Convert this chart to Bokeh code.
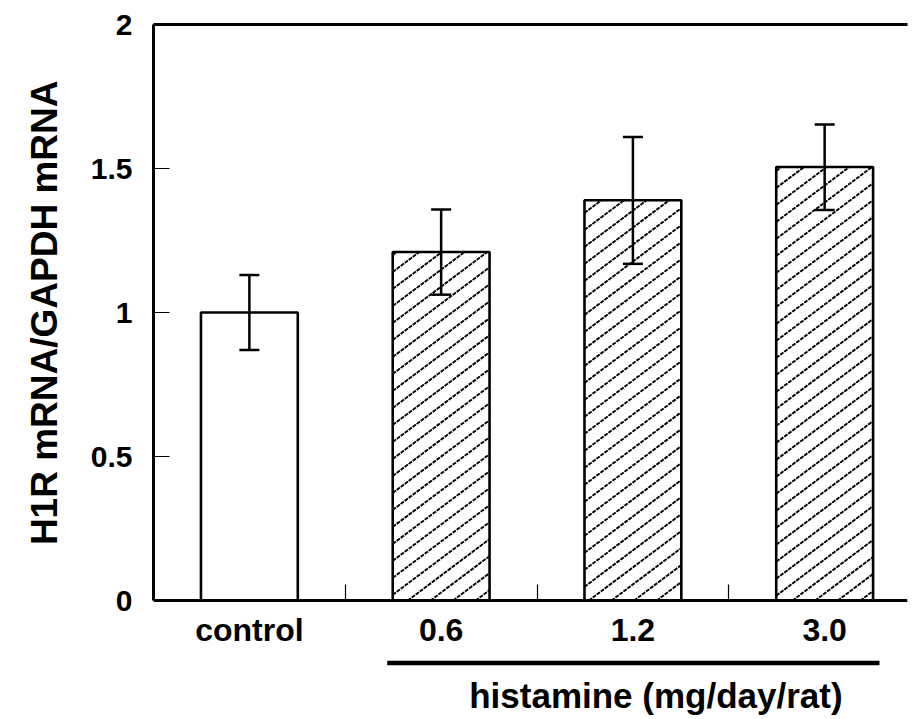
import numpy as np
from bokeh.plotting import figure
from bokeh.models import (ColumnDataSource, Range1d, FixedTicker, LinearAxis,
                          Whisker, TeeHead, Label, Title)
from bokeh.embed import file_html
from bokeh.resources import INLINE

# ---- data ----
categories = ["control", "0.6", "1.2", "3.0"]
positions = [0, 1, 2, 3]
means = [1.00, 1.21, 1.39, 1.505]
upper = [1.13, 1.358, 1.609, 1.653]
lower = [0.87, 1.062, 1.169, 1.356]
hatched = [False, True, True, True]
y_ticks = [0, 0.5, 1, 1.5, 2]
y_tick_labels = ["0", "0.5", "1", "1.5", "2"]
group_label = "histamine (mg/day/rat)"
y_label = "H1R mRNA/GAPDH mRNA"

FONT = "Liberation Sans"
BAR_W = 0.505

p = figure(width=913, height=719, output_backend="svg", toolbar_location=None,
           x_range=Range1d(-0.5, 3.432), y_range=Range1d(-0.413, 2),
           min_border_left=152, min_border_right=6, min_border_top=24,
           min_border_bottom=0)
p.outline_line_color = None
p.xgrid.visible = False
p.ygrid.visible = False

# bars: white fill
bars = ColumnDataSource(dict(x=positions, top=means))
p.vbar(x="x", top="top", bottom=0, width=BAR_W, source=bars,
       fill_color="white", line_color=None)

# diagonal hatching for the histamine bars, derived from the bar geometry
SLOPE = 0.5      # data-space slope of hatch lines
STEP = 0.059     # vertical spacing of hatch lines (data units)
hx0, hy0, hx1, hy1 = [], [], [], []
for pos, top, h in zip(positions, means, hatched):
    if not h:
        continue
    left, right = pos - BAR_W / 2, pos + BAR_W / 2
    kmin = int(np.floor((0 - SLOPE * right) / STEP)) - 1
    kmax = int(np.ceil((top - SLOPE * left) / STEP)) + 1
    for k in range(kmin, kmax + 1):
        b = k * STEP
        xs = max(left, (0 - b) / SLOPE)
        xe = min(right, (top - b) / SLOPE)
        if xe - xs > 1e-4:
            hx0.append(xs); hy0.append(SLOPE * xs + b)
            hx1.append(xe); hy1.append(SLOPE * xe + b)
p.segment(x0=hx0, y0=hy0, x1=hx1, y1=hy1, line_color="black",
          line_width=1.9, line_dash="4 1")

# bar outlines on top
p.vbar(x="x", top="top", bottom=0, width=BAR_W, source=bars,
       fill_color=None, line_color="black", line_width=2.6)

err = ColumnDataSource(dict(x=positions, upper=upper, lower=lower))
w = Whisker(base="x", upper="upper", lower="lower", source=err,
            line_color="black", line_width=2.5, level="overlay",
            upper_head=TeeHead(size=20, line_width=2.5, line_color="black"),
            lower_head=TeeHead(size=20, line_width=2.5, line_color="black"))
p.add_layout(w)

# y axis (spine only between 0 and 2)
ya = p.yaxis[0]
ya.bounds = (0, 2)
ya.ticker = FixedTicker(ticks=y_ticks, minor_ticks=[])
ya.major_label_overrides = {t: l for t, l in zip(y_ticks, y_tick_labels)}
ya.major_tick_in = 16
ya.major_tick_out = 0
ya.major_tick_line_width = 1.2
ya.minor_tick_line_color = None
ya.axis_line_width = 3
ya.major_label_standoff = 21
ya.major_label_text_font = FONT
ya.major_label_text_font_style = "bold"
ya.major_label_text_font_size = "30px"
ya.major_label_text_color = "black"

p.add_layout(Title(text=y_label, align="right", offset=56, standoff=44,
                   vertical_align="middle",
                   text_font=FONT, text_font_style="bold",
                   text_font_size="37px", text_color="black"), "left")

# x axis at y = 0
xa = p.xaxis[0]
xa.fixed_location = 0
xa.ticker = FixedTicker(ticks=positions, minor_ticks=[0.5, 1.5, 2.5])
xa.major_label_overrides = {t: c for t, c in zip(positions, categories)}
xa.major_tick_in = 0
xa.major_tick_out = 0
xa.minor_tick_in = 16
xa.minor_tick_out = 0
xa.minor_tick_line_width = 1.2
xa.axis_line_width = 3
xa.major_label_standoff = 11
xa.major_label_text_font = FONT
xa.major_label_text_font_style = "bold"
xa.major_label_text_font_size = "32px"
xa.major_label_text_color = "black"

# top line
top_axis = LinearAxis(axis_line_width=3, major_tick_line_color=None,
                      minor_tick_line_color=None, major_label_text_font_size="0px",
                      ticker=FixedTicker(ticks=[]))
p.add_layout(top_axis, "above")

# group bracket line and label
p.segment(x0=[0.719], y0=[-0.217], x1=[3.286], y1=[-0.217],
          line_width=4.5, line_color="black")
p.add_layout(Label(x=2.12, y=-0.33, text=group_label, text_align="center",
                   text_baseline="middle", text_font=FONT,
                   text_font_style="bold", text_font_size="35px", text_color="black"))

open("out.html", "w").write(file_html(p, INLINE))
